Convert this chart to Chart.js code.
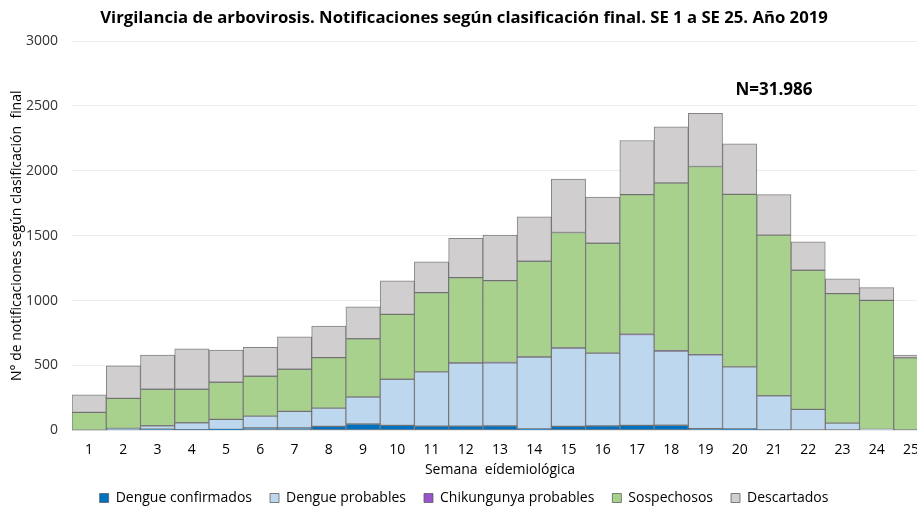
<!DOCTYPE html>
<html>
<head>
<meta charset="utf-8">
<script src="https://cdn.jsdelivr.net/npm/chart.js@4"></script>
<style>
  html, body { margin: 0; padding: 0; background: #fff; overflow: hidden; }
  #wrap { width: 935px; height: 506px; }
</style>
</head>
<body>
<div id="wrap"><canvas id="arboChart" width="935" height="506"></canvas></div>
<script>
// semanas epidemiologicas
const semanas = ['1','2','3','4','5','6','7','8','9','10','11','12','13','14','15','16','17','18','19','20','21','22','23','24','25'];

// notificaciones por clasificacion
const dengueConfirmados = [0, 5, 10, 5, 8, 20, 20, 31, 49, 39, 33, 33, 35, 12, 31, 35, 39, 40, 14, 12, 3, 0, 0, 0, 0];
const dengueProbables = [2, 10, 26, 54, 77, 90, 127, 141, 208, 355, 418, 485, 485, 552, 603, 560, 700, 571, 568, 477, 264, 162, 56, 8, 3];
const chikungunyaProbables = [0, 0, 0, 0, 0, 0, 0, 0, 0, 0, 0, 2, 3, 2, 2, 1, 2, 3, 1, 0, 0, 0, 0, 0, 0];
const sospechosos = [137, 232, 281, 258, 286, 307, 324, 389, 449, 500, 610, 657, 631, 737, 889, 846, 1076, 1292, 1450, 1330, 1237, 1072, 998, 994, 556];
const descartados = [136, 250, 263, 311, 247, 224, 250, 243, 247, 259, 238, 302, 350, 343, 412, 356, 417, 433, 410, 389, 313, 219, 113, 98, 21];

const yTicks = [0, 500, 1000, 1500, 2000, 2500, 3000];
const totalN = 'N=31.986';

const fuente = "'Open Sans', 'Noto Sans', sans-serif";

// texto N= arriba de las barras
const totalLabel = {
    id: 'totalLabel',
    afterDraw(chart) {
        const c = chart.ctx;
        const x = chart.scales.x.getPixelForValue(20);
        const y = chart.scales.y.getPixelForValue(2620);
        c.save();
        c.font = 'bold 17px ' + fuente;
        c.fillStyle = '#000';
        c.textAlign = 'center';
        c.textBaseline = 'middle';
        c.fillText(totalN, x, y);
        c.restore();
    }
};

function serie(label, data, color) {
    return {
        label: label,
        data: data,
        backgroundColor: color,
        borderColor: 'rgba(90, 90, 90, 0.75)',
        borderWidth: 1,
        borderSkipped: false
    };
}

const ctx = document.getElementById('arboChart').getContext('2d');

const arboChart = new Chart(ctx, {
    type: 'bar',
    data: {
        labels: semanas,
        datasets: [
            serie('Dengue confirmados', dengueConfirmados, '#0070C0'),
            serie('Dengue probables', dengueProbables, '#BDD7EE'),
            serie('Chikungunya probables', chikungunyaProbables, '#9954CC'),
            serie('Sospechosos', sospechosos, '#A9D18E'),
            serie('Descartados', descartados, '#D0CECE')
        ]
    },
    options: {
        responsive: false,
        animation: false,
        layout: { padding: { left: 0, right: 7, top: 0, bottom: -9 } },
        datasets: {
            bar: { categoryPercentage: 1.0, barPercentage: 1.0 }
        },
        plugins: {
            title: {
                display: true,
                text: 'Virgilancia de arbovirosis. Notificaciones según clasificación final. SE 1 a SE 25. Año 2019',
                color: '#000',
                font: { family: fuente, size: 16.7, weight: 'bold' },
                padding: { top: 8, bottom: 13 }
            },
            legend: {
                position: 'bottom',
                labels: {
                    color: '#000',
                    font: { family: fuente, size: 14 },
                    boxWidth: 9,
                    boxHeight: 9,
                    padding: 18
                }
            },
            tooltip: { enabled: false }
        },
        scales: {
            x: {
                stacked: true,
                grid: { display: false },
                border: { display: false },
                ticks: { color: '#000', font: { family: fuente, size: 14 }, padding: 3, maxRotation: 0, autoSkip: false },
                title: {
                    display: true,
                    text: 'Semana  eídemiológica',
                    color: '#000',
                    font: { family: fuente, size: 14 },
                    padding: { top: 0, bottom: -5 }
                }
            },
            y: {
                stacked: true,
                min: 0,
                max: 3000,
                afterBuildTicks(scale) {
                    scale.ticks = yTicks.map(v => ({ value: v }));
                },
                afterFit(scale) {
                    scale.width = 72;
                },
                grid: { color: '#ececec', drawTicks: false },
                border: { display: false },
                ticks: {
                    color: '#333',
                    font: { family: fuente, size: 14 },
                    padding: 14,
                    callback: v => String(v)
                },
                title: {
                    display: true,
                    text: 'N° de notificaciones según clasificación  final',
                    color: '#000',
                    font: { family: fuente, size: 14 },
                    padding: { top: 9, bottom: 0 }
                }
            }
        }
    },
    plugins: [totalLabel]
});
</script>
</body>
</html>
